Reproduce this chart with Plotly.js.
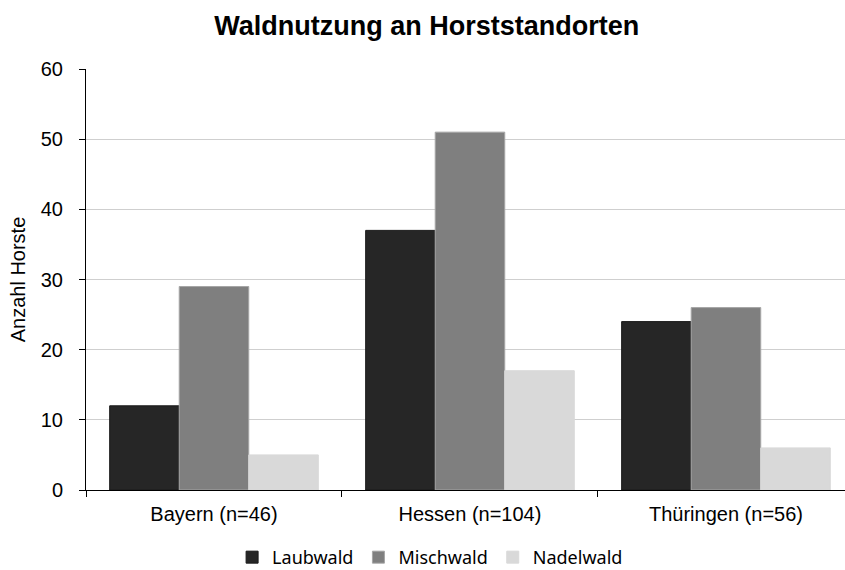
<!DOCTYPE html>
<html><head><meta charset="utf-8">
<script src="https://cdn.plot.ly/plotly-3.0.1.min.js"></script>
<style>html,body{margin:0;padding:0;background:#fff}#c{width:845px;height:570px}</style>
</head><body><div id="c"></div>
<script>
const categories = ["Bayern (n=46)", "Hessen (n=104)", "Thüringen (n=56)"];
const laubwald = [12, 37, 24];
const mischwald = [29, 51, 26];
const nadelwald = [5, 17, 6];
const seriesNames = ["Laubwald", "Mischwald", "Nadelwald"];
const yTicks = [0, 10, 20, 30, 40, 50, 60];

const colors = ["#262626", "#7f7f7f", "#d9d9d9"];
const lines = ["#1a1a1a", "#a6a6a6", "#d9d9d9"];
const vals = [laubwald, mischwald, nadelwald];
const data = vals.map((v, i) => ({
  type: "bar", x: categories, y: v, name: seriesNames[i],
  marker: {color: colors[i], line: {color: lines[i], width: 1}}
}));

const font = "Liberation Sans, Arial, sans-serif";
const layout = {
  width: 845, height: 570,
  margin: {l: 86, r: 0, t: 69, b: 80},
  paper_bgcolor: "#fff", plot_bgcolor: "#fff",
  barmode: "group", bargap: 0.185, bargroupgap: 0,
  title: {text: "<b>Waldnutzung an Horststandorten</b>", font: {family: font, size: 27, color: "#000"},
          x: 0.505, xref: "container", xanchor: "center", y: 0.955, yref: "container", yanchor: "middle"},
  xaxis: {range: [-0.5, 2.465], showline: true, linecolor: "#000", linewidth: 1,
          ticks: "outside", tickson: "boundaries", ticklen: 6, tickcolor: "#000",
          ticklabelstandoff: 6,
          tickfont: {family: font, size: 20, color: "#000"}, showgrid: false, fixedrange: true},
  yaxis: {range: [0, 60], tickvals: yTicks, showline: true, linecolor: "#000", linewidth: 1,
          ticks: "outside", ticklen: 6, tickcolor: "#000", showgrid: true, gridcolor: "#cfcfcf",
          gridwidth: 1.3, zeroline: false, ticklabelstandoff: 12,
          tickfont: {family: font, size: 20, color: "#000"},
          title: {text: "Anzahl Horste", font: {family: font, size: 20, color: "#000"}, standoff: 9}},
  showlegend: true,
  legend: {orientation: "h", x: 0.509, xref: "container", xanchor: "center",
           y: 0.022, yref: "container", yanchor: "middle",
           font: {family: "Noto Sans, sans-serif", size: 18, color: "#000"}, itemwidth: 30, tracegroupgap: 0}
};
Plotly.newPlot("c", data, layout, {staticPlot: true});
</script></body></html>
